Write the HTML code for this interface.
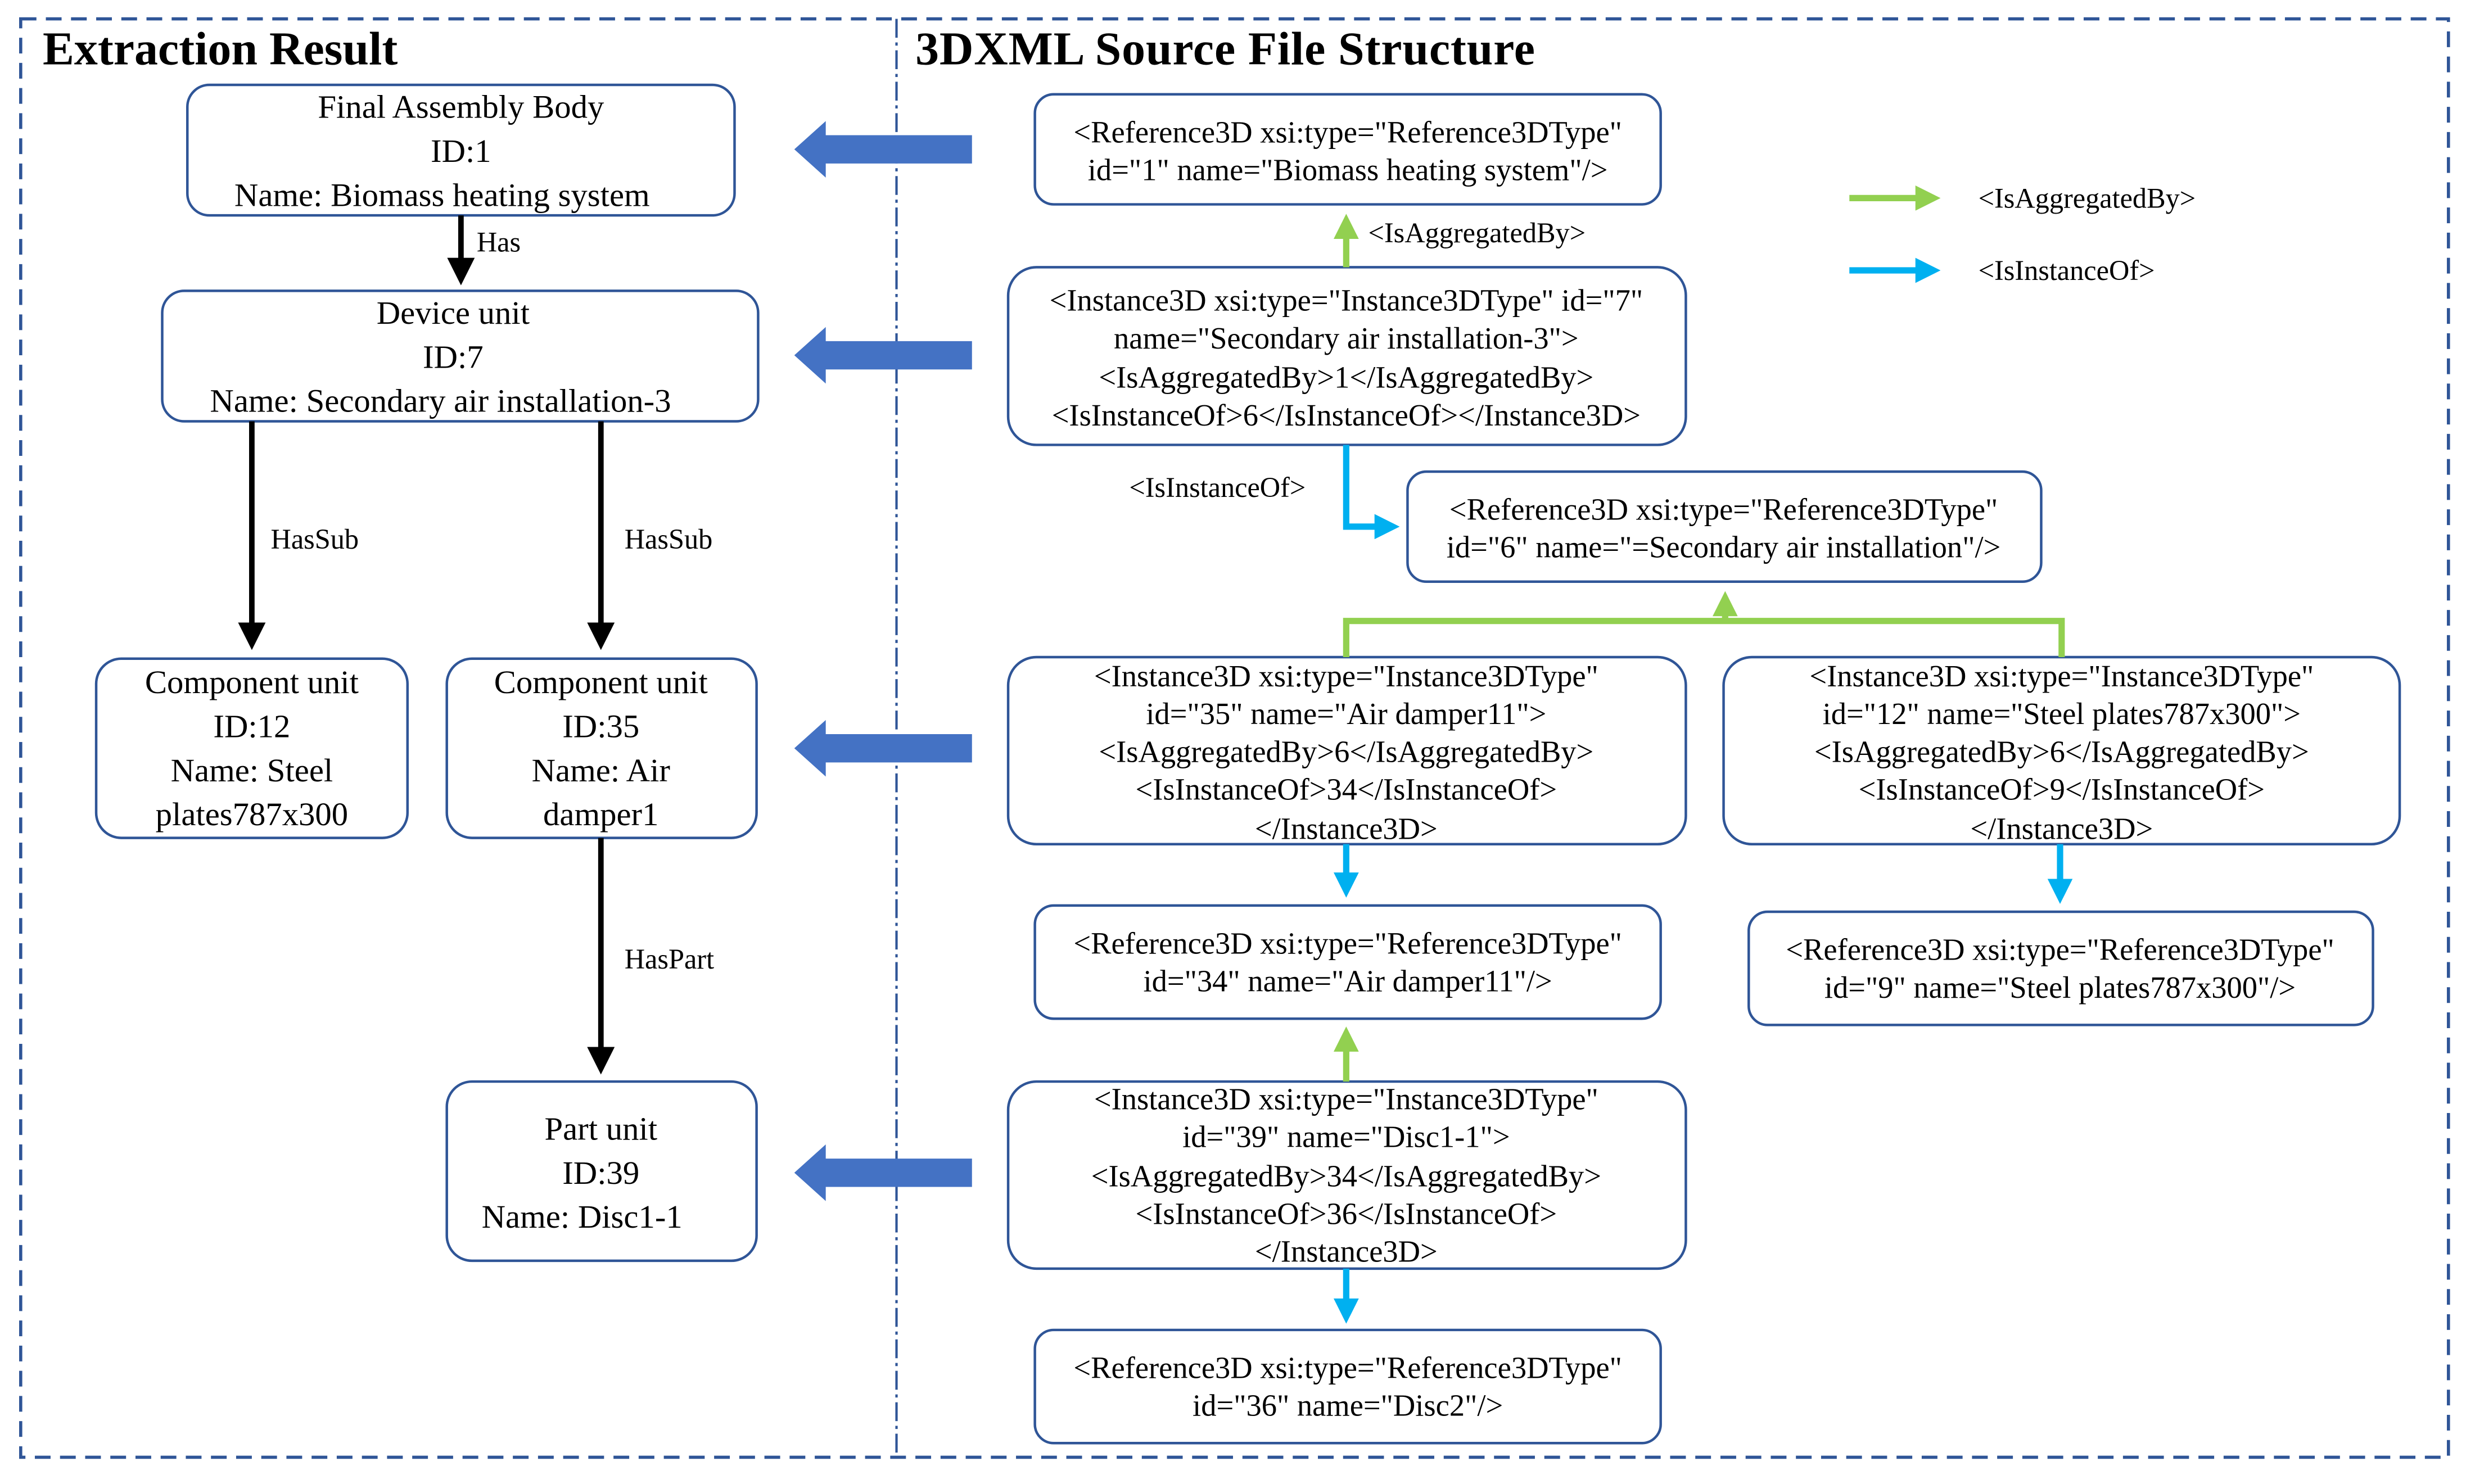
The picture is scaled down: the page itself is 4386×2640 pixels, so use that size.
<!DOCTYPE html>
<html><head><meta charset="utf-8"><style>html,body{margin:0;padding:0;background:#fff}svg{display:block}</style></head>
<body>
<svg width="4386" height="2640" viewBox="0 0 1568 944" xmlns="http://www.w3.org/2000/svg">
<defs>
<marker id="bk" markerWidth="5" markerHeight="5" refX="4" refY="2.5" orient="auto" markerUnits="strokeWidth"><path d="M0,0 L5,2.5 L0,5 z" fill="#000"/></marker>
<marker id="gr" markerWidth="4" markerHeight="4" refX="3" refY="2" orient="auto" markerUnits="strokeWidth"><path d="M0,0 L4,2 L0,4 z" fill="#92d050"/></marker>
<marker id="bl" markerWidth="4" markerHeight="4" refX="3" refY="2" orient="auto" markerUnits="strokeWidth"><path d="M0,0 L4,2 L0,4 z" fill="#00b0f0"/></marker>
</defs>
<rect width="1568" height="944" fill="#fff"/>
<rect x="13" y="12" width="1544" height="915" fill="none" stroke="#2f5597" stroke-width="2" stroke-dasharray="10,6"/>
<line x1="570" y1="12" x2="570" y2="927" stroke="#2f5597" stroke-width="1.5" stroke-dasharray="12,3,2,3"/>
<g font-family="Liberation Serif, serif" font-weight="bold" font-size="30" fill="#000">
<text x="27" y="41">Extraction Result</text>
<text x="582" y="41" textLength="394">3DXML Source File Structure</text>
</g>
<g fill="#fff" stroke="#2f5597" stroke-width="1.6">
<rect x="119" y="54" width="348" height="83" rx="14"/>
<rect x="103" y="185" width="379" height="83" rx="14"/>
<rect x="61" y="419" width="198" height="114" rx="16"/>
<rect x="284" y="419" width="197" height="114" rx="16"/>
<rect x="284" y="688" width="197" height="114" rx="16"/>
<rect x="658" y="60" width="398" height="70" rx="12"/>
<rect x="641" y="170" width="431" height="113" rx="18"/>
<rect x="895" y="300" width="403" height="70" rx="12"/>
<rect x="641" y="418" width="431" height="119" rx="18"/>
<rect x="1096" y="418" width="430" height="119" rx="18"/>
<rect x="658" y="576" width="398" height="72" rx="12"/>
<rect x="1112" y="580" width="397" height="72" rx="12"/>
<rect x="641" y="688" width="431" height="119" rx="18"/>
<rect x="658" y="846" width="398" height="72" rx="12"/>
</g>
<g stroke="#000" stroke-width="3.5" fill="none">
<line x1="293" y1="137" x2="293" y2="178" marker-end="url(#bk)"/>
<line x1="160" y1="268" x2="160" y2="410" marker-end="url(#bk)"/>
<line x1="382" y1="268" x2="382" y2="410" marker-end="url(#bk)"/>
<line x1="382" y1="533" x2="382" y2="680" marker-end="url(#bk)"/>
</g>
<g fill="#4472c4">
<path d="M505,95 L525,77 L525,86 L618,86 L618,104 L525,104 L525,113 z"/>
<path d="M505,226 L525,208 L525,217 L618,217 L618,235 L525,235 L525,244 z"/>
<path d="M505,476 L525,458 L525,467 L618,467 L618,485 L525,485 L525,494 z"/>
<path d="M505,746 L525,728 L525,737 L618,737 L618,755 L525,755 L525,764 z"/>
</g>
<g fill="none" stroke-width="4">
<line x1="856" y1="170" x2="856" y2="140" stroke="#92d050" marker-end="url(#gr)"/>
<path d="M856,283 L856,335 L886,335" stroke="#00b0f0" marker-end="url(#bl)"/>
<path d="M856,418 L856,395 L1311,395 L1311,418" stroke="#92d050"/>
<line x1="1097" y1="395" x2="1097" y2="380" stroke="#92d050" marker-end="url(#gr)"/>
<line x1="856" y1="537" x2="856" y2="567" stroke="#00b0f0" marker-end="url(#bl)"/>
<line x1="1310" y1="537" x2="1310" y2="571" stroke="#00b0f0" marker-end="url(#bl)"/>
<line x1="856" y1="688" x2="856" y2="657" stroke="#92d050" marker-end="url(#gr)"/>
<line x1="856" y1="807" x2="856" y2="838" stroke="#00b0f0" marker-end="url(#bl)"/>
<line x1="1176" y1="126" x2="1230" y2="126" stroke="#92d050" marker-end="url(#gr)"/>
<line x1="1176" y1="172" x2="1230" y2="172" stroke="#00b0f0" marker-end="url(#bl)"/>
</g>
<g font-family="Liberation Serif, serif" font-size="21" fill="#000" text-anchor="middle" dominant-baseline="central">
<text x="293" y="68">Final Assembly  Body</text>
<text x="293" y="96">ID:1</text>
<text x="281" y="124">Name: Biomass heating system</text>
<text x="288" y="199">Device unit</text>
<text x="288" y="227">ID:7</text>
<text x="280" y="255">Name: Secondary air installation-3</text>
<text x="160" y="434">Component unit</text>
<text x="160" y="462">ID:12</text>
<text x="160" y="490">Name: Steel</text>
<text x="160" y="518">plates787x300</text>
<text x="382" y="434">Component unit</text>
<text x="382" y="462">ID:35</text>
<text x="382" y="490">Name: Air</text>
<text x="382" y="518">damper1</text>
<text x="382" y="718">Part unit</text>
<text x="382" y="746">ID:39</text>
<text x="370" y="774">Name: Disc1-1</text>
</g>
<g font-family="Liberation Serif, serif" font-size="18" fill="#000" dominant-baseline="central">
<text x="303" y="154">Has</text>
<text x="172" y="343">HasSub</text>
<text x="397" y="343">HasSub</text>
<text x="397" y="610">HasPart</text>
<text x="870" y="148">&lt;IsAggregatedBy&gt;</text>
<text x="718" y="310">&lt;IsInstanceOf&gt;</text>
<text x="1258" y="126">&lt;IsAggregatedBy&gt;</text>
<text x="1258" y="172">&lt;IsInstanceOf&gt;</text>
</g>
<g font-family="Liberation Serif, serif" font-size="19.5" fill="#000" text-anchor="middle" dominant-baseline="central">
<text x="857" y="84">&lt;Reference3D xsi:type="Reference3DType"</text>
<text x="857" y="108">id="1" name="Biomass heating system"/&gt;</text>
<text x="856" y="191">&lt;Instance3D xsi:type="Instance3DType" id="7"</text>
<text x="856" y="215">name="Secondary air installation-3"&gt;</text>
<text x="856" y="240">&lt;IsAggregatedBy&gt;1&lt;/IsAggregatedBy&gt;</text>
<text x="856" y="264">&lt;IsInstanceOf&gt;6&lt;/IsInstanceOf&gt;&lt;/Instance3D&gt;</text>
<text x="1096" y="324">&lt;Reference3D xsi:type="Reference3DType"</text>
<text x="1096" y="348">id="6" name="=Secondary air installation"/&gt;</text>
<text x="856" y="430">&lt;Instance3D xsi:type="Instance3DType"</text>
<text x="856" y="454">id="35" name="Air damper11"&gt;</text>
<text x="856" y="478">&lt;IsAggregatedBy&gt;6&lt;/IsAggregatedBy&gt;</text>
<text x="856" y="502">&lt;IsInstanceOf&gt;34&lt;/IsInstanceOf&gt;</text>
<text x="856" y="527">&lt;/Instance3D&gt;</text>
<text x="1311" y="430">&lt;Instance3D xsi:type="Instance3DType"</text>
<text x="1311" y="454">id="12" name="Steel plates787x300"&gt;</text>
<text x="1311" y="478">&lt;IsAggregatedBy&gt;6&lt;/IsAggregatedBy&gt;</text>
<text x="1311" y="502">&lt;IsInstanceOf&gt;9&lt;/IsInstanceOf&gt;</text>
<text x="1311" y="527">&lt;/Instance3D&gt;</text>
<text x="857" y="600">&lt;Reference3D xsi:type="Reference3DType"</text>
<text x="857" y="624">id="34" name="Air damper11"/&gt;</text>
<text x="1310" y="604">&lt;Reference3D xsi:type="Reference3DType"</text>
<text x="1310" y="628">id="9" name="Steel plates787x300"/&gt;</text>
<text x="856" y="699">&lt;Instance3D xsi:type="Instance3DType"</text>
<text x="856" y="723">id="39" name="Disc1-1"&gt;</text>
<text x="856" y="748">&lt;IsAggregatedBy&gt;34&lt;/IsAggregatedBy&gt;</text>
<text x="856" y="772">&lt;IsInstanceOf&gt;36&lt;/IsInstanceOf&gt;</text>
<text x="856" y="796">&lt;/Instance3D&gt;</text>
<text x="857" y="870">&lt;Reference3D xsi:type="Reference3DType"</text>
<text x="857" y="894">id="36" name="Disc2"/&gt;</text>
</g>
</svg>
</body></html>
